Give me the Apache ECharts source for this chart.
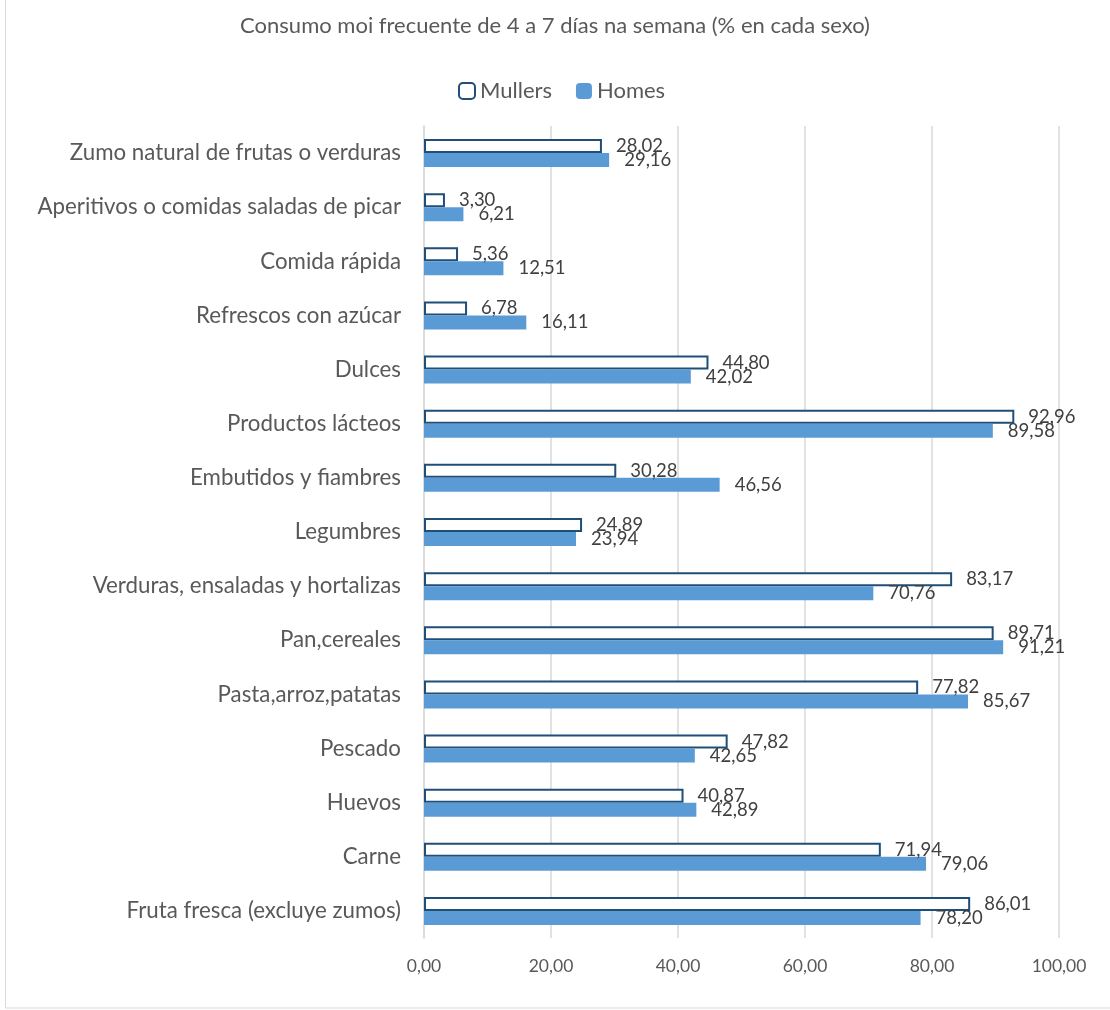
<!DOCTYPE html>
<html><head><meta charset="utf-8">
<script src="https://cdn.jsdelivr.net/npm/echarts@6/dist/echarts.min.js"></script>
<style>html,body{margin:0;padding:0;background:#fff}#c{width:1110px;height:1010px}</style>
</head><body><div id="c"></div>
<script>
const categories = ["Fruta fresca (excluye zumos)","Carne","Huevos","Pescado","Pasta,arroz,patatas","Pan,cereales","Verduras, ensaladas y hortalizas","Legumbres","Embutidos y fiambres","Productos lácteos","Dulces","Refrescos con azúcar","Comida rápida","Aperitivos o comidas saladas de picar","Zumo natural de frutas o verduras"];
const mullers = [86.01,71.94,40.87,47.82,77.82,89.71,83.17,24.89,30.28,92.96,44.80,6.78,5.36,3.30,28.02];
const homes = [78.20,79.06,42.89,42.65,85.67,91.21,70.76,23.94,46.56,89.58,42.02,16.11,12.51,6.21,29.16];
const xTicks = [0,20,40,60,80,100];
const fmt = v => Number(v).toFixed(2).replace('.', ',');
const FONT = 'Lato, "Open Sans", sans-serif';
const chart = echarts.init(document.getElementById('c'));
chart.setOption({
  animation:false,
  textStyle:{fontFamily:FONT,color:'#595959'},
  title:{text:'Consumo moi frecuente de 4 a 7 días na semana (% en cada sexo)',left:'center',top:10,textStyle:{fontFamily:FONT,fontSize:22,fontWeight:'normal',color:'#595959'}},
  legend:{data:['Mullers','Homes'],top:75,left:453,itemWidth:16,itemHeight:16,itemGap:24,textStyle:{fontFamily:FONT,fontSize:22,color:'#595959'}},
  graphic:[{type:'rect',shape:{x:5.5,y:-2,width:1200,height:1010},style:{fill:'none',stroke:'#d9d9d9',lineWidth:1},silent:true}],
  grid:{left:424,right:51,top:126,bottom:72},
  xAxis:{type:'value',min:xTicks[0],max:xTicks[xTicks.length-1],interval:20,
    axisLine:{show:false},axisTick:{show:false},
    splitLine:{lineStyle:{color:'#d9d9d9',width:1.5}},
    axisLabel:{formatter:fmt,fontSize:17.5,color:'#595959',margin:19,fontFamily:FONT}},
  yAxis:{type:'category',data:categories,axisTick:{show:false},
    axisLine:{show:true,lineStyle:{color:'#d9d9d9',width:1.5}},
    axisLabel:{fontSize:22.3,color:'#595959',margin:23,fontFamily:FONT}},
  series:[
    {name:'Mullers',type:'bar',data:mullers,barWidth:14,barGap:'0%',barCategoryGap:'48%',
      itemStyle:{color:'#ffffff',borderColor:'#1f4e79',borderWidth:2},
      label:{show:true,position:'right',distance:14,formatter:p=>fmt(p.value),fontSize:18.5,color:'#404040',fontFamily:FONT}},
    {name:'Homes',type:'bar',data:homes,barWidth:14,barGap:'0%',
      itemStyle:{color:'#5b9bd5'},
      label:{show:true,position:'right',distance:15,formatter:p=>fmt(p.value),fontSize:18.5,color:'#404040',fontFamily:FONT}}
  ]
});
</script></body></html>
